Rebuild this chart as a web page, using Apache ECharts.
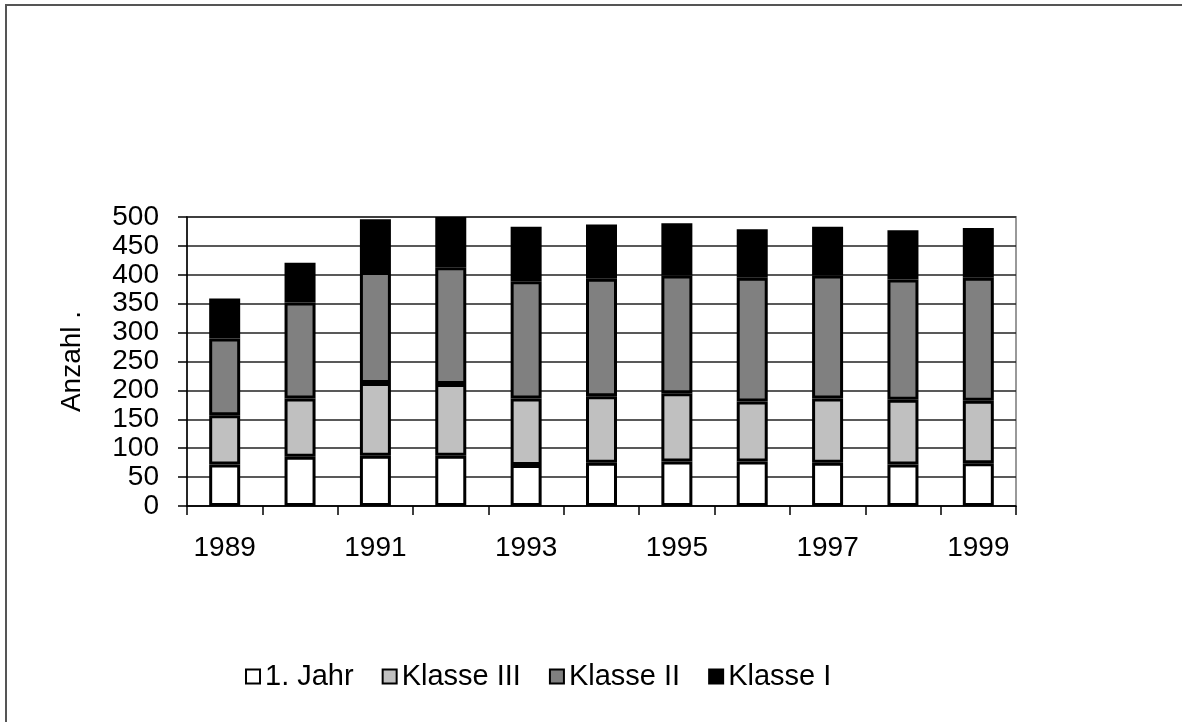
<!DOCTYPE html>
<html>
<head>
<meta charset="utf-8">
<script src="https://cdn.jsdelivr.net/npm/echarts@6/dist/echarts.min.js"></script>
<style>
  html, body { margin: 0; padding: 0; background: #fff; }
  #chart { width: 1182px; height: 722px; position: relative; }
  #frame { position: absolute; left: 5px; top: 4px; right: 0; bottom: 0;
           border-top: 2px solid #555; border-left: 2px solid #555; pointer-events: none; }
</style>
</head>
<body>
<div id="chart"></div>
<div id="frame"></div>
<script>
// Jahrgänge
const years = ['1989','1990','1991','1992','1993','1994','1995','1996','1997','1998','1999'];

// Anzahl je Gruppe (gestapelt)
const jahr1    = [72, 85, 87, 87, 71, 75, 77, 77, 75, 72, 74];
const klasse3  = [85, 101, 126, 124, 115, 115, 118, 104, 111, 112, 108];
const klasse2  = [133, 166, 192, 202, 203, 203, 204, 214, 213, 208, 213];
const klasse1  = [69, 69, 91, 87, 94, 94, 90, 84, 84, 85, 86];

const seriesNames = ['1. Jahr', 'Klasse III', 'Klasse II', 'Klasse I'];
const seriesColors = ['#ffffff', '#c0c0c0', '#808080', '#000000'];
const seriesData = [jahr1, klasse3, klasse2, klasse1];

const FONT = 'Liberation Sans, Arial, sans-serif';

const chart = echarts.init(document.getElementById('chart'), null, { renderer: 'canvas' });

chart.setOption({
  animation: false,
  backgroundColor: '#fff',
  textStyle: { fontFamily: FONT, color: '#000' },
  grid: {
    left: 187, right: 166, top: 217, bottom: 216,
    show: true, borderColor: '#999', borderWidth: 2, backgroundColor: 'transparent'
  },
  legend: {
    left: 245, top: 662, padding: 0,
    itemWidth: 14, itemHeight: 14, itemGap: 28,
    icon: 'rect',
    textStyle: { fontFamily: FONT, fontSize: 29, color: '#000', lineHeight: 29 },
    data: seriesNames
  },
  xAxis: {
    type: 'category',
    data: years,
    boundaryGap: true,
    axisLine: { lineStyle: { color: '#000', width: 1.5 } },
    axisTick: { show: true, length: 9, interval: 0, lineStyle: { color: '#000', width: 1.5 } },
    axisLabel: { interval: 1, fontSize: 28, fontFamily: FONT, color: '#000', margin: 28 },
    splitLine: { show: false }
  },
  yAxis: {
    type: 'value',
    min: 0, max: 500, interval: 50,
    name: 'Anzahl .',
    nameLocation: 'middle',
    nameGap: 101,
    nameTextStyle: { fontSize: 28, fontFamily: FONT, color: '#000' },
    axisLine: { show: true, lineStyle: { color: '#000', width: 1.5 } },
    axisTick: { show: true, length: 9, lineStyle: { color: '#000', width: 1.5 } },
    axisLabel: { fontSize: 28, fontFamily: FONT, color: '#000', margin: 28, lineHeight: 28 },
    splitLine: { show: true, lineStyle: { color: '#222', width: 1.5 } }
  },
  series: seriesNames.map((name, i) => ({
    name: name,
    type: 'bar',
    stack: 'total',
    barWidth: 31,
    clip: false,
    data: seriesData[i],
    itemStyle: { color: seriesColors[i], borderColor: '#000', borderWidth: 3 }
  }))
});
</script>
</body>
</html>
